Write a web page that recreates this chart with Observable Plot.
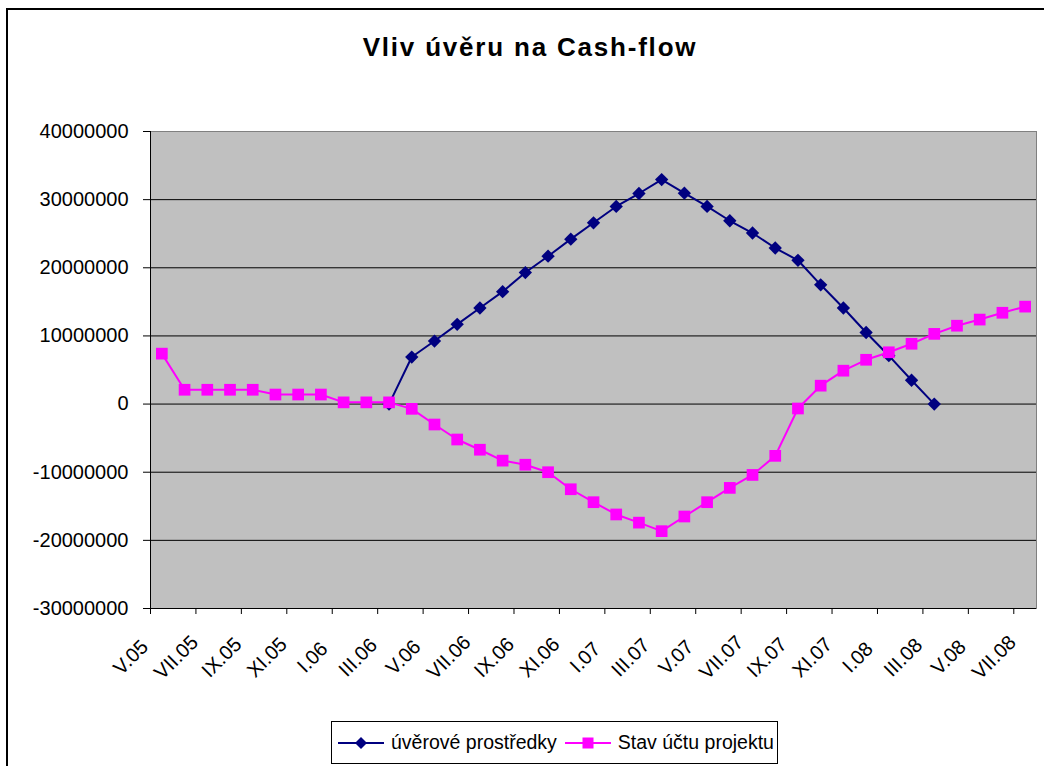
<!DOCTYPE html>
<html>
<head>
<meta charset="utf-8">
<script src="https://cdn.jsdelivr.net/npm/d3@7"></script>
<script src="https://cdn.jsdelivr.net/npm/@observablehq/plot@0.6"></script>
<style>
html,body{margin:0;padding:0;width:1044px;height:766px;overflow:hidden;background:#fff;font-family:"Liberation Sans",Arial,sans-serif;color:#000;}
#wrap{position:relative;width:1044px;height:766px;}
#chart{position:absolute;left:0;top:0;}
#border{position:absolute;left:6px;top:8px;width:1100px;height:900px;border:2px solid #000;pointer-events:none;}
#title{position:absolute;left:530px;top:32px;transform:translateX(-50%);font-weight:bold;font-size:26px;letter-spacing:1.8px;white-space:nowrap;}
#legend{position:absolute;left:331px;top:721px;width:445px;height:41px;border:1px solid #000;display:flex;align-items:center;font-size:19.5px;white-space:nowrap;}
#legend svg{display:block;}
</style>
</head>
<body>
<div id="wrap">
  <div id="chart"></div>
  <div id="title">Vliv úvěru na Cash-flow</div>
  <div id="legend"></div>
  <div id="border"></div>
</div>
<script>
// ---- data ----
const categories = ["V.05","VI.05","VII.05","VIII.05","IX.05","X.05","XI.05","XII.05",
  "I.06","II.06","III.06","IV.06","V.06","VI.06","VII.06","VIII.06","IX.06","X.06","XI.06","XII.06",
  "I.07","II.07","III.07","IV.07","V.07","VI.07","VII.07","VIII.07","IX.07","X.07","XI.07","XII.07",
  "I.08","II.08","III.08","IV.08","V.08","VI.08","VII.08"];

const tickLabels = ["V.05","VII.05","IX.05","XI.05","I.06","III.06","V.06","VII.06","IX.06","XI.06",
  "I.07","III.07","V.07","VII.07","IX.07","XI.07","I.08","III.08","V.08","VII.08"];

const yTicks = [-30000000,-20000000,-10000000,0,10000000,20000000,30000000,40000000];

const seriesNames = ["úvěrové prostředky","Stav účtu projektu"];

// úvěrové prostředky (loan funds)
const uver = [null,null,null,null,null,null,null,null,null,null,
  0,6900000,9250000,11700000,14100000,16500000,19300000,21700000,24200000,26600000,
  29000000,30900000,32950000,30950000,29000000,26900000,25100000,22900000,21100000,17500000,
  14100000,10500000,7100000,3500000,0,
  null,null,null,null];

// Stav účtu projektu (project account balance)
const stav = [7400000,2100000,2100000,2100000,2100000,1400000,1400000,1400000,250000,250000,
  250000,-700000,-3000000,-5200000,-6700000,-8300000,-8900000,-10000000,-12500000,-14400000,
  -16200000,-17400000,-18650000,-16500000,-14400000,-12300000,-10400000,-7600000,-650000,2700000,
  4900000,6500000,7600000,8850000,10300000,11500000,12400000,13400000,14300000];

const colors = ["#000080","#ff00ff"];

// ---- build ----
const W = 1044, H = 766, mL = 150, mR = 8, mT = 131, mB = 158;
const step = (W - mL - mR) / categories.length;
const rows = categories.map((c, i) => ({cat: c, uver: uver[i], stav: stav[i]}));
const uverRows = rows.filter(d => d.uver != null);

const chart = Plot.plot({
  width: W, height: H,
  marginLeft: mL, marginRight: mR, marginTop: mT, marginBottom: mB,
  style: {background: "transparent", fontFamily: "Liberation Sans, Arial, sans-serif", color: "#000", overflow: "visible"},
  x: {type: "point", domain: categories, padding: 0.5, round: false},
  y: {domain: [yTicks[0], yTicks[yTicks.length - 1]]},
  marks: [
    Plot.frame({fill: "#c0c0c0", stroke: "#808080"}),
    Plot.ruleY(yTicks.slice(0, -1), {stroke: "#000"}),
    Plot.ruleX([categories[0]], {dx: -step / 2, stroke: "#000"}),
    Plot.axisY(yTicks, {tickSize: 7, tickPadding: 15, tickFormat: d => String(d), fontSize: 20, label: null}),
    Plot.axisX(tickLabels, {tickSize: 6, tickFormat: () => "", dx: -step / 2, label: null}),
    Plot.text(tickLabels, {x: d => d, frameAnchor: "bottom", dx: -31, dy: 49, rotate: -45, textAnchor: "middle", lineAnchor: "middle", fontSize: 20}),
    Plot.line(uverRows, {x: "cat", y: "uver", stroke: colors[0], strokeWidth: 2}),
    Plot.dot(uverRows, {x: "cat", y: "uver", symbol: "diamond2", r: 6, fill: colors[0]}),
    Plot.line(rows, {x: "cat", y: "stav", stroke: colors[1], strokeWidth: 2}),
    Plot.dot(rows, {x: "cat", y: "stav", symbol: "square", r: 6.6, fill: colors[1]})
  ]
});
document.getElementById("chart").appendChild(chart);

// ---- legend ----
const legend = document.getElementById("legend");
const symbolsL = ["diamond", "square"];
seriesNames.forEach((name, i) => {
  const sw = document.createElementNS("http://www.w3.org/2000/svg", "svg");
  sw.setAttribute("width", 46); sw.setAttribute("height", 20);
  sw.style.marginLeft = i === 0 ? "6px" : "8px";
  let marker;
  if (symbolsL[i] === "diamond") {
    marker = `<path d="M23,4 L29,10 L23,16 L17,10 Z" fill="${colors[i]}"/>`;
  } else {
    marker = `<rect x="17.5" y="4.5" width="11" height="11" fill="${colors[i]}"/>`;
  }
  sw.innerHTML = `<line x1="0" y1="10" x2="46" y2="10" stroke="${colors[i]}" stroke-width="2"/>${marker}`;
  legend.appendChild(sw);
  const t = document.createElement("span");
  t.textContent = name;
  t.style.marginLeft = "7px";
  legend.appendChild(t);
});
</script>
</body>
</html>
